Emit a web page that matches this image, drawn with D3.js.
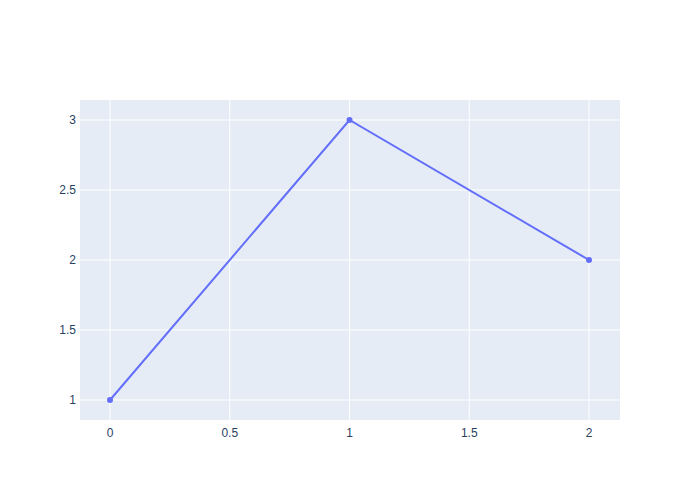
<!DOCTYPE html>
<html><head><meta charset="utf-8">
<script src="https://cdn.jsdelivr.net/npm/d3@7"></script>
<style>body{margin:0;background:#fff}svg{display:block}</style>
</head><body>
<svg id="c" width="700" height="500"></svg>
<script>
const xValues = [0, 1, 2];
const yValues = [1, 3, 2];
const xTicks = [0, 0.5, 1, 1.5, 2];
const yTicks = [1, 1.5, 2, 2.5, 3];

const W = 700, H = 500;
const m = {l: 80, r: 80, t: 100, b: 80};
const svg = d3.select('#c');
svg.append('rect').attr('width', W).attr('height', H).attr('fill', '#fff');
const pw = W - m.l - m.r, ph = H - m.t - m.b;
const g = svg.append('g').attr('transform', `translate(${m.l},${m.t})`);
g.append('rect').attr('width', pw).attr('height', ph).attr('fill', '#e5ecf6');

const x = d3.scaleLinear().domain([-0.1253, 2.1294]).range([0, pw]);
const y = d3.scaleLinear().domain([1 - 20/140, 3 + 20/140]).range([ph, 0]);

g.selectAll('.gx').data(xTicks).enter().append('line')
  .attr('x1', d => x(d)).attr('x2', d => x(d)).attr('y1', 0).attr('y2', ph)
  .attr('stroke', '#fff').attr('stroke-width', 1);
g.selectAll('.gy').data(yTicks).enter().append('line')
  .attr('y1', d => y(d)).attr('y2', d => y(d)).attr('x1', 0).attr('x2', pw)
  .attr('stroke', '#fff').attr('stroke-width', 1);

const font = '"Liberation Sans", Arial, sans-serif';
g.selectAll('.tx').data(xTicks).enter().append('text')
  .attr('x', d => x(d)).attr('y', ph + 17).attr('text-anchor', 'middle')
  .attr('font-family', font).attr('font-size', 12).attr('fill', '#2a3f5f')
  .text(d => d);
g.selectAll('.ty').data(yTicks).enter().append('text')
  .attr('x', -4).attr('y', d => y(d) + 4).attr('text-anchor', 'end')
  .attr('font-family', font).attr('font-size', 12).attr('fill', '#2a3f5f')
  .text(d => d);

const pts = xValues.map((v, i) => [v, yValues[i]]);
g.append('path').datum(pts)
  .attr('d', d3.line().x(d => x(d[0])).y(d => y(d[1])))
  .attr('fill', 'none').attr('stroke', '#636efa').attr('stroke-width', 2);
g.selectAll('.pt').data(pts).enter().append('circle')
  .attr('cx', d => x(d[0])).attr('cy', d => y(d[1])).attr('r', 3)
  .attr('fill', '#636efa');
</script>
</body></html>
